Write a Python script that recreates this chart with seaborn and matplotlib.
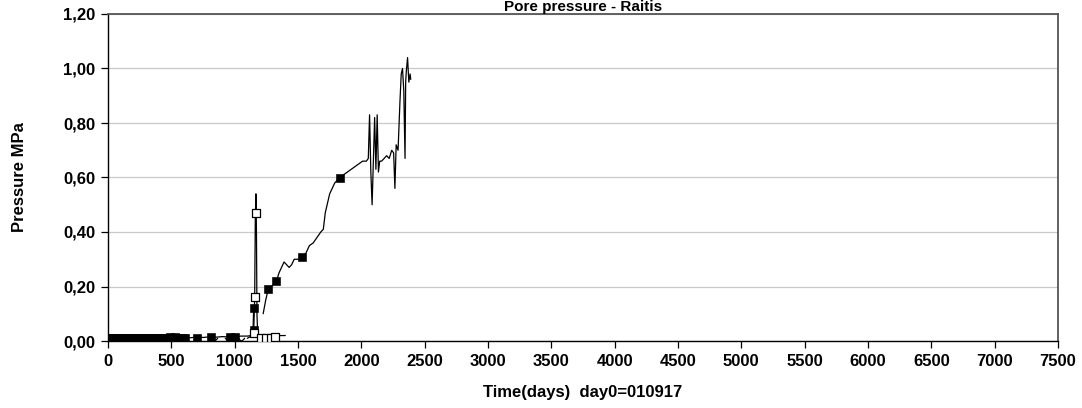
import numpy as np
import matplotlib
matplotlib.use("Agg")
import matplotlib.pyplot as plt
import seaborn as sns
from matplotlib.ticker import FuncFormatter, MultipleLocator

# logger line (main sensor)
main_days = [0, 40, 80, 120, 160, 200, 240, 280, 320, 360, 400, 440, 480, 520, 560, 600,
             650, 700, 750, 800, 850, 900, 950, 1000, 1050, 1100, 1130, 1145, 1150, 1155]
main_vals = [0.01, 0.012, 0.01, 0.011, 0.012, 0.01, 0.011, 0.012, 0.01, 0.012, 0.011, 0.013, 0.012, 0.014, 0.012, 0.013,
             0.012, 0.014, 0.013, 0.015, 0.014, 0.016, 0.015, 0.016, 0.018, 0.018, 0.02, 0.04, 0.12, 0.13]

rise_days = [1225, 1245, 1265, 1290, 1310, 1330, 1350, 1370, 1390, 1410, 1430, 1450, 1470, 1500, 1530,
             1560, 1590, 1620, 1650, 1680, 1700, 1715, 1730, 1750, 1770, 1790, 1810, 1830, 1860, 1890,
             1920, 1950, 1980, 2010, 2040, 2055, 2065, 2075, 2085, 2095, 2105, 2115, 2125, 2135, 2145,
             2160, 2180, 2200, 2220, 2240, 2255, 2265, 2275, 2290, 2305, 2315, 2325, 2335, 2345, 2350,
             2355, 2365, 2375, 2385, 2390]
rise_vals = [0.10, 0.15, 0.19, 0.20, 0.21, 0.22, 0.25, 0.27, 0.29, 0.28, 0.27, 0.28, 0.30, 0.30, 0.31,
             0.32, 0.35, 0.36, 0.38, 0.40, 0.41, 0.47, 0.50, 0.54, 0.56, 0.58, 0.59, 0.60, 0.61, 0.62,
             0.63, 0.64, 0.65, 0.66, 0.66, 0.67, 0.83, 0.62, 0.50, 0.66, 0.82, 0.63, 0.83, 0.62, 0.66,
             0.66, 0.67, 0.68, 0.67, 0.70, 0.69, 0.56, 0.72, 0.70, 0.88, 0.98, 1.00, 0.92, 0.67, 0.95,
             0.99, 1.04, 0.95, 0.98, 0.96]

# filled square markers on the main sensor
main_mk_days = [10, 30, 50, 70, 90, 110, 130, 150, 170, 190, 210, 230, 250, 270, 290, 310, 330, 350,
                370, 390, 410, 430, 450, 470, 490, 510, 530, 550, 570, 590, 610, 700, 810, 960, 1000,
                1150, 1155, 1265, 1325, 1530, 1830]
main_mk_vals = [0.01, 0.01, 0.01, 0.01, 0.01, 0.01, 0.01, 0.01, 0.01, 0.01, 0.01, 0.01, 0.01, 0.01, 0.01, 0.01,
                0.01, 0.01, 0.01, 0.01, 0.012, 0.012, 0.012, 0.012, 0.015, 0.012, 0.015, 0.012, 0.012, 0.012,
                0.012, 0.012, 0.015, 0.015, 0.015, 0.04, 0.12, 0.19, 0.22, 0.31, 0.60]

# second sensor (spike)
spike_days = [1100, 1140, 1150, 1158, 1163, 1168, 1172, 1176, 1182, 1200, 1240, 1280, 1320, 1360, 1400]
spike_vals = [0.01, 0.02, 0.03, 0.16, 0.45, 0.54, 0.40, 0.10, 0.02, 0.01, 0.01, 0.01, 0.015, 0.02, 0.02]
spike_mk_days = [1150, 1160, 1168, 1205, 1245, 1285, 1320]
spike_mk_vals = [0.03, 0.16, 0.47, 0.01, 0.01, 0.01, 0.015]

# third sensor (x markers near zero)
x_days = [700, 840, 950, 1050, 1250]
x_vals = [0.003, 0.0, 0.0, 0.0, 0.0]

title = "Pore pressure - Raitis"

sns.set_style("white")
plt.rcParams['font.family'] = ['Liberation Sans', 'DejaVu Sans']

fig, ax = plt.subplots(figsize=(10.82, 4.08), dpi=100)
fig.subplots_adjust(left=108 / 1082, right=1058 / 1082, top=1 - 14 / 408, bottom=1 - 341 / 408)

sns.lineplot(x=main_days, y=main_vals, ax=ax, color="black", lw=0.9, sort=False)
sns.lineplot(x=rise_days, y=rise_vals, ax=ax, color="black", lw=0.9, sort=False)
sns.lineplot(x=spike_days, y=spike_vals, ax=ax, color="black", lw=0.9, sort=False)

sns.scatterplot(x=main_mk_days, y=main_mk_vals, ax=ax, marker="s", s=30, color="black",
                edgecolor="black", zorder=5)
sns.scatterplot(x=spike_mk_days, y=spike_mk_vals, ax=ax, marker="s", s=30, facecolor="white",
                edgecolor="black", linewidth=0.9, zorder=6)
sns.scatterplot(x=x_days, y=x_vals, ax=ax, marker="x", s=25, color="black", linewidth=0.9, zorder=5)

ax.set_xlim(0, 7500)
ax.set_ylim(0, 1.2)
ax.xaxis.set_major_locator(MultipleLocator(500))
ax.yaxis.set_major_locator(MultipleLocator(0.2))
ax.yaxis.set_major_formatter(FuncFormatter(lambda v, p: f"{v:.2f}".replace('.', ',')))
ax.grid(axis="y", color="#c8c8c8", lw=0.9)
ax.set_axisbelow(True)

ax.tick_params(axis="both", direction="out", length=5, width=0.9, color="black",
               labelcolor="black", labelsize=12, bottom=True, left=True, pad=4)
for lab in ax.get_xticklabels() + ax.get_yticklabels():
    lab.set_fontweight("bold")

for side in ["left", "bottom"]:
    ax.spines[side].set_color("black")
    ax.spines[side].set_linewidth(1.0)
for side in ["top", "right"]:
    ax.spines[side].set_color("#555555")
    ax.spines[side].set_linewidth(1.3)

ax.set_xlabel("Time(days)  day0=010917", fontsize=12, fontweight="bold", labelpad=12, color="black")
ax.set_ylabel("Pressure MPa", fontsize=12, fontweight="bold", labelpad=26, color="black")

fig.text(583 / 1082, 1 - 11 / 408, title, ha="center", va="baseline", fontsize=11,
         fontweight="bold", color="black")

fig.savefig("out.png", dpi=100)
